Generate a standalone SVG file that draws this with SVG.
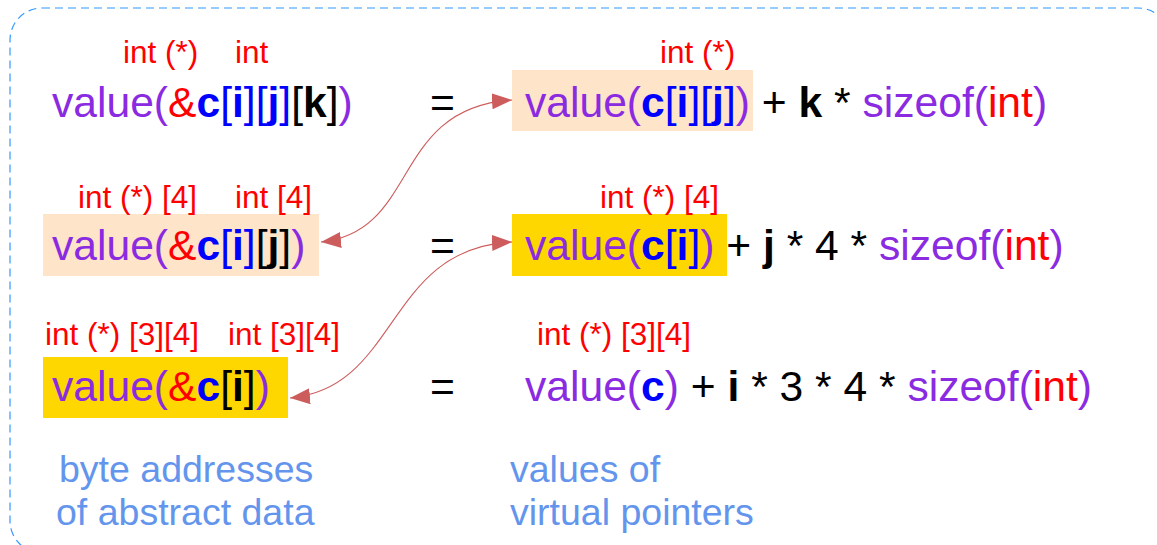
<svg xmlns="http://www.w3.org/2000/svg" width="1157" height="545" viewBox="0 0 1157 545">
<defs>
<style>
text{font-family:"Liberation Sans",Arial,sans-serif;}
.m{font-size:42.6px;fill:#000;}
.t{font-size:31.5px;fill:#ff0000;}
.n{font-size:37.5px;fill:#6495ed;}
.p{fill:#8a2be2;}
.r{fill:#ff0000;}
.bb{fill:#0000ff;font-weight:bold;}
.bl{fill:#0000ff;}
.k{font-weight:bold;fill:#000;}
.peach{fill:#fee4c8;}
.gold{fill:#ffd700;}
.conn{fill:none;stroke:#cd5c5c;stroke-width:1.1;}
</style>
<marker id="ah" viewBox="0 0 20 16" refX="20" refY="8" markerWidth="20" markerHeight="16" markerUnits="userSpaceOnUse" orient="auto-start-reverse">
<path d="M0,0 L20,8 L0,16 Z" fill="#cd5c5c"/>
</marker>
</defs>
<rect x="10" y="8" width="1160" height="545" rx="32" fill="none" stroke="#3399ff" stroke-width="1.2" stroke-dasharray="8,5"/>

<g id="row1-left">
<text class="t" x="123" y="63">int (*)</text>
<text class="t" x="235" y="63">int</text>
<text class="m" x="52" y="117"><tspan class="p">value(</tspan><tspan class="r">&amp;</tspan><tspan class="bb">c</tspan><tspan class="bl">[</tspan><tspan class="bb">i</tspan><tspan class="bl">][</tspan><tspan class="bb">j</tspan><tspan class="bl">]</tspan>[<tspan class="k">k</tspan>]<tspan class="p">)</tspan></text>
</g>
<g id="eq1"><text class="m" x="430" y="117">=</text></g>
<g id="row1-right">
<rect class="peach" x="512" y="70" width="241" height="61"/>
<text class="t" x="660" y="63">int (*)</text>
<text class="m" x="525" y="117"><tspan class="p">value(</tspan><tspan class="bb">c</tspan><tspan class="bl">[</tspan><tspan class="bb">i</tspan><tspan class="bl">][</tspan><tspan class="bb">j</tspan><tspan class="bl">]</tspan><tspan class="p">)</tspan> + <tspan class="k">k</tspan> * <tspan class="p">sizeof(</tspan><tspan class="r">int</tspan><tspan class="p">)</tspan></text>
</g>

<g id="row2-left">
<rect class="peach" x="43" y="214" width="276" height="62"/>
<text class="t" x="78" y="208">int (*) [4]</text>
<text class="t" x="235" y="208">int [4]</text>
<text class="m" x="52" y="260"><tspan class="p">value(</tspan><tspan class="r">&amp;</tspan><tspan class="bb">c</tspan><tspan class="bl">[</tspan><tspan class="bb">i</tspan><tspan class="bl">]</tspan>[<tspan class="k">j</tspan>]<tspan class="p">)</tspan></text>
</g>
<g id="eq2"><text class="m" x="430" y="260">=</text></g>
<g id="row2-right">
<rect class="gold" x="512" y="214" width="215" height="62"/>
<text class="t" x="600" y="208">int (*) [4]</text>
<text class="m" x="525" y="260"><tspan class="p">value(</tspan><tspan class="bb">c</tspan><tspan class="bl">[</tspan><tspan class="bb">i</tspan><tspan class="bl">]</tspan><tspan class="p">)</tspan> + <tspan class="k">j</tspan> * 4 * <tspan class="p">sizeof(</tspan><tspan class="r">int</tspan><tspan class="p">)</tspan></text>
</g>

<g id="row3-left">
<rect class="gold" x="43" y="357" width="245" height="61"/>
<text class="t" x="45" y="345">int (*) [3][4]</text>
<text class="t" x="228" y="345">int [3][4]</text>
<text class="m" x="52" y="401"><tspan class="p">value(</tspan><tspan class="r">&amp;</tspan><tspan class="bb">c</tspan>[<tspan class="k">i</tspan>]<tspan class="p">)</tspan></text>
</g>
<g id="eq3"><text class="m" x="430" y="401">=</text></g>
<g id="row3-right">
<text class="t" x="537" y="345">int (*) [3][4]</text>
<text class="m" x="525" y="401"><tspan class="p">value(</tspan><tspan class="bb">c</tspan><tspan class="p">)</tspan> + <tspan class="k">i</tspan> * 3 * 4 * <tspan class="p">sizeof(</tspan><tspan class="r">int</tspan><tspan class="p">)</tspan></text>
</g>

<g id="caption-left">
<text class="n" x="59" y="482">byte addresses</text>
<text class="n" x="56" y="525">of abstract data</text>
</g>
<g id="caption-right">
<text class="n" x="510" y="482">values of</text>
<text class="n" x="510" y="525">virtual pointers</text>
</g>

<g id="connectors">
<path class="conn" d="M321,242 C420,232 390,108 512,100" marker-start="url(#ah)" marker-end="url(#ah)"/>
<path class="conn" d="M290,398 C400,388 385,248 512,242" marker-start="url(#ah)" marker-end="url(#ah)"/>
</g>
</svg>
